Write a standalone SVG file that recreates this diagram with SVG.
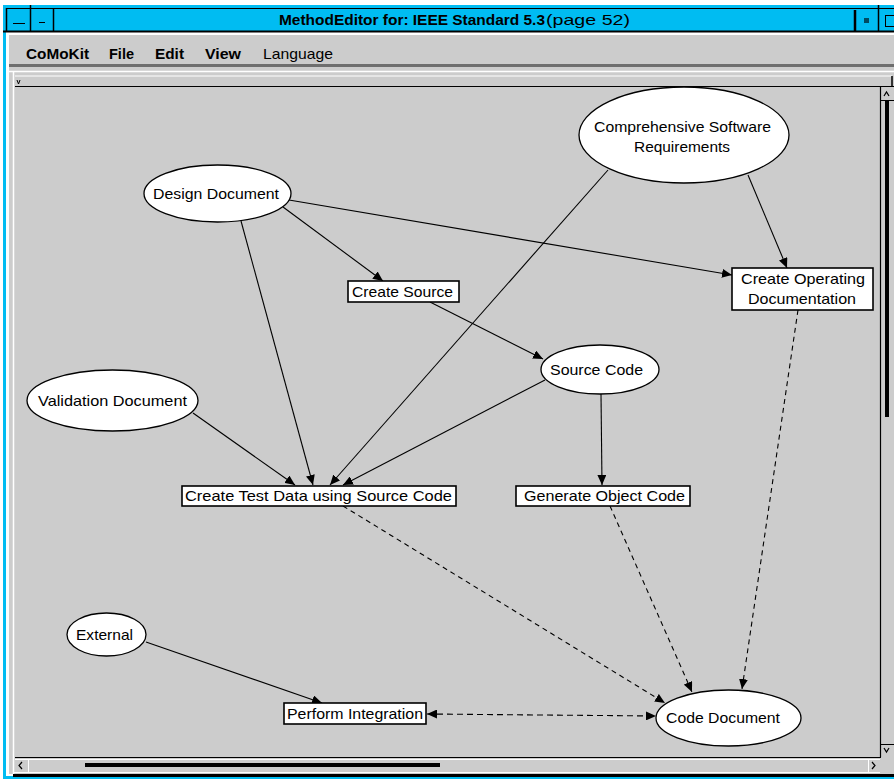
<svg xmlns="http://www.w3.org/2000/svg" width="894" height="779" viewBox="0 0 894 779">
  <style>
    .ui { font-family: "Liberation Sans", Arial, sans-serif; fill: #000; }
    .title { font-size: 15px; }
    .menu { font-size: 15px; font-weight: bold; }
    .lbl { font-family: "Liberation Sans", Arial, sans-serif; font-size: 15px; fill: #000; text-anchor: start; }
    .oval { fill: #fff; stroke: #000; stroke-width: 1.3; }
    .box { fill: #fff; stroke: #000; stroke-width: 1.6; }
    .edge { fill: none; stroke: #000; stroke-width: 1.1; }
    .dash { stroke-dasharray: 5 4; }
  </style>
  <defs>
    <marker id="arrow" markerUnits="userSpaceOnUse" markerWidth="11" markerHeight="9" refX="10" refY="4.5" orient="auto-start-reverse">
      <path d="M0,0 L10,4.5 L0,9 z" fill="#000"/>
    </marker>
  </defs>

  <!-- window frame -->
  <rect x="0" y="0" width="894" height="779" fill="#fff"/>
  <rect x="3" y="5" width="891" height="774" fill="#00bcf2"/>
  <rect x="6" y="32" width="888" height="744" fill="#fff"/>

  <!-- title bar -->
  <g id="titlebar">
    <rect x="6" y="8" width="888" height="24" fill="#00bcf2"/>
    <line x1="6" y1="8.5" x2="894" y2="8.5" stroke="#000" stroke-width="1"/>
    <line x1="3" y1="31.5" x2="894" y2="31.5" stroke="#000" stroke-width="2"/>
    <line x1="6.5" y1="8" x2="6.5" y2="32" stroke="#000" stroke-width="1.5"/>
    <line x1="30.5" y1="5" x2="30.5" y2="32" stroke="#000" stroke-width="1.5"/>
    <line x1="53.5" y1="8" x2="53.5" y2="32" stroke="#000" stroke-width="1.5"/>
    <line x1="13" y1="23.5" x2="25" y2="23.5" stroke="#000" stroke-width="1"/>
    <line x1="39" y1="22.5" x2="45" y2="22.5" stroke="#000" stroke-width="1"/>
    <line x1="855" y1="10" x2="855" y2="32" stroke="#000" stroke-width="2.5"/>
    <line x1="878.5" y1="5" x2="878.5" y2="32" stroke="#000" stroke-width="1.5"/>
    <rect x="864" y="18" width="5" height="5" fill="#000" opacity="0.6"/>
    <rect x="885.5" y="15.5" width="10" height="11" fill="none" stroke="#000" stroke-width="1"/>
    <text class="ui title" x="279" y="25" font-weight="bold" textLength="266" lengthAdjust="spacingAndGlyphs">MethodEditor for: IEEE Standard 5.3</text>
    <text class="ui title" x="546" y="25" textLength="84" lengthAdjust="spacingAndGlyphs">(page 52)</text>
  </g>

  <!-- menu bar -->
  <g id="menubar">
    <rect x="9" y="33" width="885" height="32" fill="#cccccc"/>
    <line x1="9" y1="34" x2="894" y2="34" stroke="#fff" stroke-width="2"/>
    <rect x="9" y="64" width="885" height="3" fill="#6e6e6e"/>
    <text class="ui menu" x="26" y="59" textLength="63" lengthAdjust="spacingAndGlyphs">CoMoKit</text>
    <text class="ui menu" x="109" y="59" textLength="25" lengthAdjust="spacingAndGlyphs">File</text>
    <text class="ui menu" x="155" y="59" textLength="29" lengthAdjust="spacingAndGlyphs">Edit</text>
    <text class="ui menu" x="205" y="59" textLength="36" lengthAdjust="spacingAndGlyphs">View</text>
    <text class="ui" x="263" y="59" font-size="15" textLength="70" lengthAdjust="spacingAndGlyphs">Language</text>
  </g>

  <!-- editor frame, rulers and scrollbars -->
  <g id="frame">
    <rect x="9" y="67" width="885" height="707" fill="#cccccc"/>
    <line x1="9" y1="71.5" x2="894" y2="71.5" stroke="#fff" stroke-width="1.5"/>
    <line x1="13.5" y1="72" x2="13.5" y2="774" stroke="#fff" stroke-width="1.5"/>
    <line x1="15" y1="76" x2="892" y2="76" stroke="#fff" stroke-width="1"/>
    <line x1="15" y1="86.5" x2="894" y2="86.5" stroke="#000" stroke-width="1.2"/>
    <line x1="892" y1="76" x2="892" y2="86" stroke="#000" stroke-width="1.5"/>
    <path d="M17,80 L18.5,84 L20,80" fill="none" stroke="#000" stroke-width="1"/>
    <!-- vertical scrollbar -->
    <line x1="880.5" y1="87" x2="880.5" y2="757" stroke="#000" stroke-width="1.2"/>
    <line x1="881" y1="100.5" x2="894" y2="100.5" stroke="#000" stroke-width="1"/>
    <path d="M884,96 L886.5,92 L889,96" fill="none" stroke="#000" stroke-width="1.2"/>
    <rect x="885" y="100" width="4" height="317" fill="#000"/>
    <line x1="881" y1="744.5" x2="894" y2="744.5" stroke="#000" stroke-width="1"/>
    <path d="M884,748 L886.5,752 L889,748" fill="none" stroke="#000" stroke-width="1.2"/>
    <!-- horizontal scrollbar -->
    <line x1="15" y1="757.5" x2="881" y2="757.5" stroke="#000" stroke-width="1.2"/>
    <line x1="15" y1="759.5" x2="880" y2="759.5" stroke="#fff" stroke-width="1"/>
    <line x1="28.5" y1="759" x2="28.5" y2="772" stroke="#fff" stroke-width="1"/>
    <line x1="868.5" y1="759" x2="868.5" y2="772" stroke="#fff" stroke-width="1"/>
    <path d="M22,762 L19,765.5 L22,769" fill="none" stroke="#000" stroke-width="1.2"/>
    <path d="M872,762 L875,765.5 L872,769" fill="none" stroke="#000" stroke-width="1.2"/>
    <rect x="85" y="763" width="355" height="4" fill="#000"/>
    <line x1="13" y1="772.5" x2="880" y2="772.5" stroke="#fff" stroke-width="1"/>
    <rect x="13" y="774" width="881" height="3" fill="#000"/>
  </g>

  <!-- connectors -->
  <g id="connectors">
    <line class="edge" x1="289" y1="200" x2="732" y2="275" marker-end="url(#arrow)"/>
    <line class="edge" x1="283" y1="207" x2="383" y2="281" marker-end="url(#arrow)"/>
    <line class="edge" x1="241" y1="221" x2="313" y2="485" marker-end="url(#arrow)"/>
    <line class="edge" x1="608" y1="170" x2="330" y2="485" marker-end="url(#arrow)"/>
    <line class="edge" x1="748" y1="175" x2="787" y2="268" marker-end="url(#arrow)"/>
    <line class="edge" x1="430" y1="302" x2="543" y2="359" marker-end="url(#arrow)"/>
    <line class="edge" x1="545" y1="380" x2="343" y2="485" marker-end="url(#arrow)"/>
    <line class="edge" x1="193" y1="413" x2="295" y2="485" marker-end="url(#arrow)"/>
    <line class="edge" x1="601" y1="394" x2="602" y2="485" marker-end="url(#arrow)"/>
    <line class="edge" x1="146" y1="642" x2="322" y2="703" marker-end="url(#arrow)"/>
    <line class="edge dash" x1="343" y1="506" x2="665" y2="703" marker-end="url(#arrow)"/>
    <line class="edge dash" x1="610" y1="506" x2="692" y2="692" marker-end="url(#arrow)"/>
    <line class="edge dash" x1="798" y1="310" x2="742" y2="689" marker-end="url(#arrow)"/>
    <line class="edge" stroke-dasharray="6 4" x1="427" y1="714" x2="656" y2="716" marker-start="url(#arrow)" marker-end="url(#arrow)"/>
  </g>

  <!-- nodes -->
  <g id="comprehensive-software-requirements">
    <ellipse class="oval" cx="684" cy="135" rx="105" ry="48"/>
    <text class="lbl" x="594" y="132" textLength="177" lengthAdjust="spacingAndGlyphs">Comprehensive Software</text>
    <text class="lbl" x="634" y="152" textLength="96" lengthAdjust="spacingAndGlyphs">Requirements</text>
  </g>
  <g id="design-document">
    <ellipse class="oval" cx="217.5" cy="193.5" rx="73.5" ry="28.5"/>
    <text class="lbl" x="153" y="199" textLength="126" lengthAdjust="spacingAndGlyphs">Design Document</text>
  </g>
  <g id="create-source">
    <rect class="box" x="348" y="281" width="111" height="21"/>
    <text class="lbl" x="352" y="297" textLength="101" lengthAdjust="spacingAndGlyphs">Create Source</text>
  </g>
  <g id="create-operating-documentation">
    <rect class="box" x="732" y="268" width="141" height="42"/>
    <text class="lbl" x="741" y="284" textLength="124" lengthAdjust="spacingAndGlyphs">Create Operating</text>
    <text class="lbl" x="748" y="304" textLength="108" lengthAdjust="spacingAndGlyphs">Documentation</text>
  </g>
  <g id="source-code">
    <ellipse class="oval" cx="600" cy="369.5" rx="59" ry="24.5"/>
    <text class="lbl" x="550" y="375" textLength="93" lengthAdjust="spacingAndGlyphs">Source Code</text>
  </g>
  <g id="validation-document">
    <ellipse class="oval" cx="112.5" cy="400.5" rx="85.5" ry="30.5"/>
    <text class="lbl" x="38" y="406" textLength="149" lengthAdjust="spacingAndGlyphs">Validation Document</text>
  </g>
  <g id="create-test-data">
    <rect class="box" x="182" y="486" width="274" height="20"/>
    <text class="lbl" x="185" y="501" textLength="267" lengthAdjust="spacingAndGlyphs">Create Test Data using Source Code</text>
  </g>
  <g id="generate-object-code">
    <rect class="box" x="516" y="486" width="174" height="20"/>
    <text class="lbl" x="524" y="501" textLength="161" lengthAdjust="spacingAndGlyphs">Generate Object Code</text>
  </g>
  <g id="external">
    <ellipse class="oval" cx="106.5" cy="634.5" rx="39.5" ry="21.5"/>
    <text class="lbl" x="76" y="640" textLength="57" lengthAdjust="spacingAndGlyphs">External</text>
  </g>
  <g id="perform-integration">
    <rect class="box" x="284" y="703" width="142" height="21"/>
    <text class="lbl" x="287" y="719" textLength="136" lengthAdjust="spacingAndGlyphs">Perform Integration</text>
  </g>
  <g id="code-document">
    <ellipse class="oval" cx="728.5" cy="718" rx="72.5" ry="28"/>
    <text class="lbl" x="666" y="723" textLength="114" lengthAdjust="spacingAndGlyphs">Code Document</text>
  </g>
</svg>
